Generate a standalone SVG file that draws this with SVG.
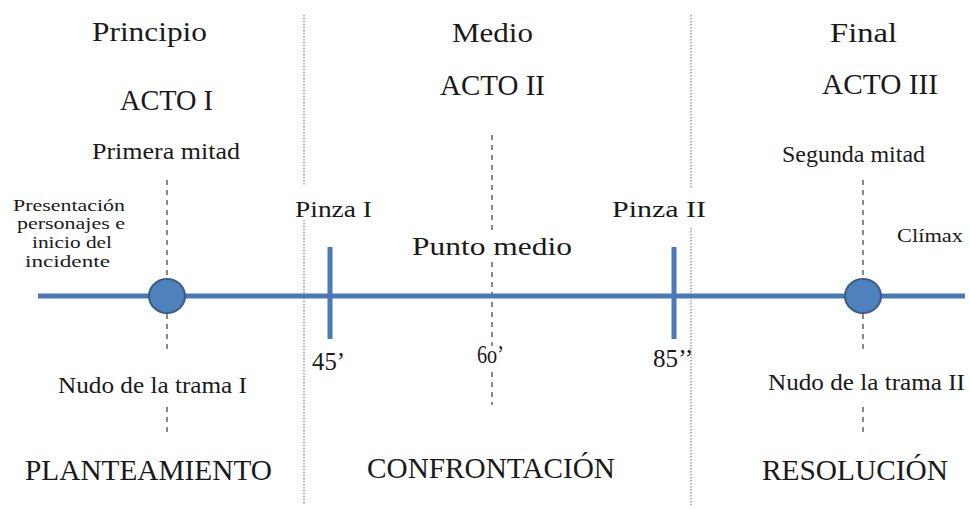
<svg xmlns="http://www.w3.org/2000/svg" width="970" height="509" viewBox="0 0 970 509">
<style>
text{font-family:"Liberation Serif","DejaVu Serif",serif;fill:#1a1a1a;}
.dot{stroke:#9a9a9a;stroke-width:1.5;stroke-dasharray:1.5 1.5;fill:none;}
.dash{stroke:#4a4a4a;stroke-width:1.3;stroke-dasharray:5 5;fill:none;}
.axis{stroke:#4a7ab5;stroke-width:5;fill:none;}
.tick{stroke:#4a7ab5;stroke-width:5;fill:none;}
.circ{fill:#4f81bd;stroke:#385d8a;stroke-width:2;}
</style>
<rect width="970" height="509" fill="#ffffff"/>
<g id="connectors">
  <path class="dot" d="M304,15V186M304,220V505"/>
  <path class="dot" d="M691,15V188M691,228V505"/>
  <path class="dash" d="M167,180V278M167,314V352M167,407V437"/>
  <path class="dash" d="M863,180V278M863,314V352M863,407V437"/>
  <path class="dash" d="M492,135V230M492,262V346M492,372V405"/>
  <line class="axis" x1="38" y1="296" x2="965" y2="296"/>
  <line class="tick" x1="330" y1="247" x2="330" y2="339"/>
  <line class="tick" x1="674" y1="247" x2="674" y2="339"/>
</g>
<g id="node-principio">
  <text x="92" y="41" font-size="28" textLength="115" lengthAdjust="spacingAndGlyphs">Principio</text>
  <text x="120" y="110" font-size="30" textLength="93" lengthAdjust="spacingAndGlyphs">ACTO I</text>
  <text x="92" y="159" font-size="24" textLength="148" lengthAdjust="spacingAndGlyphs">Primera mitad</text>
</g>
<g id="node-medio">
  <text x="452" y="42" font-size="28" textLength="81" lengthAdjust="spacingAndGlyphs">Medio</text>
  <text x="440" y="95" font-size="29" textLength="105" lengthAdjust="spacingAndGlyphs">ACTO II</text>
</g>
<g id="node-final">
  <text x="830" y="42" font-size="28" textLength="67" lengthAdjust="spacingAndGlyphs">Final</text>
  <text x="822" y="94" font-size="29" textLength="116" lengthAdjust="spacingAndGlyphs">ACTO III</text>
  <text x="782" y="162" font-size="23" textLength="143" lengthAdjust="spacingAndGlyphs">Segunda mitad</text>
</g>
<g id="node-presentacion">
  <text x="13" y="211" font-size="17" textLength="112" lengthAdjust="spacingAndGlyphs">Presentación</text>
  <text x="17" y="229" font-size="17" textLength="108" lengthAdjust="spacingAndGlyphs">personajes e</text>
  <text x="32" y="248" font-size="17" textLength="80" lengthAdjust="spacingAndGlyphs">inicio del</text>
  <text x="25" y="267" font-size="17" textLength="85" lengthAdjust="spacingAndGlyphs">incidente</text>
</g>
<g id="node-nudo1">
  <ellipse class="circ" cx="167" cy="296" rx="18" ry="17"/>
  <text x="58" y="393" font-size="23" textLength="189" lengthAdjust="spacingAndGlyphs">Nudo de la trama I</text>
</g>
<g id="node-pinza1">
  <text x="295" y="217" font-size="24" textLength="77" lengthAdjust="spacingAndGlyphs">Pinza I</text>
  <text x="312" y="370" font-size="25" textLength="33" lengthAdjust="spacingAndGlyphs">45’</text>
</g>
<g id="node-puntomedio">
  <text x="412" y="255" font-size="26" textLength="160" lengthAdjust="spacingAndGlyphs">Punto medio</text>
  <text x="477" y="363" font-size="26" textLength="27" lengthAdjust="spacingAndGlyphs">6o’</text>
</g>
<g id="node-pinza2">
  <text x="612" y="217" font-size="24" textLength="94" lengthAdjust="spacingAndGlyphs">Pinza II</text>
  <text x="653" y="367" font-size="25" textLength="40" lengthAdjust="spacingAndGlyphs">85’’</text>
</g>
<g id="node-climax">
  <ellipse class="circ" cx="863" cy="296" rx="18" ry="17"/>
  <text x="897" y="242" font-size="19" textLength="66" lengthAdjust="spacingAndGlyphs">Clímax</text>
  <text x="768" y="390" font-size="23" textLength="197" lengthAdjust="spacingAndGlyphs">Nudo de la trama II</text>
</g>
<g id="node-planteamiento">
  <text x="25" y="480" font-size="29" textLength="247" lengthAdjust="spacingAndGlyphs">PLANTEAMIENTO</text>
</g>
<g id="node-confrontacion">
  <text x="367" y="478" font-size="29" textLength="248" lengthAdjust="spacingAndGlyphs">CONFRONTACIÓN</text>
</g>
<g id="node-resolucion">
  <text x="762" y="480" font-size="29" textLength="186" lengthAdjust="spacingAndGlyphs">RESOLUCIÓN</text>
</g>
</svg>
